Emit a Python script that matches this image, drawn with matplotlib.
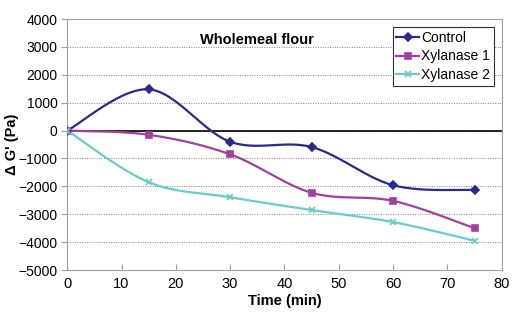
import matplotlib.pyplot as plt
import numpy as np

plt.rcParams['font.family'] = ['Liberation Sans', 'DejaVu Sans']

time_min = [0, 15, 30, 45, 60, 75]
control = [0, 1480, -400, -590, -1960, -2130]
xylanase_1 = [0, -150, -850, -2230, -2520, -3500]
xylanase_2 = [0, -1850, -2390, -2850, -3280, -3950]


# Excel-style smoothed line through the points (Catmull-Rom)
def smooth(x, y, n=30):
    x = np.asarray(x, float)
    y = np.asarray(y, float)
    px = np.concatenate([[x[0]], x, [x[-1]]])
    py = np.concatenate([[y[0]], y, [y[-1]]])
    xs, ys = [], []
    t = np.linspace(0, 1, n)
    for i in range(1, len(px) - 2):
        for p, out in ((px, xs), (py, ys)):
            p0, p1, p2, p3 = p[i - 1], p[i], p[i + 1], p[i + 2]
            out.extend(0.5 * (2 * p1 + (-p0 + p2) * t
                              + (2 * p0 - 5 * p1 + 4 * p2 - p3) * t ** 2
                              + (-p0 + 3 * p1 - 3 * p2 + p3) * t ** 3))
    return xs, ys


fig, ax = plt.subplots(figsize=(5.21, 3.23), dpi=100)
fig.subplots_adjust(left=0.129, right=0.963, top=0.941, bottom=0.164)

series = [
    ('Control', control, '#2a2a8c', 'D', 4),
    ('Xylanase 1', xylanase_1, '#a3409f', 's', 5),
    ('Xylanase 2', xylanase_2, '#66cccc', 'x', 5),
]
for name, vals, color, marker, ms in series:
    sx, sy = smooth(time_min, vals)
    ax.plot(sx, sy, color=color, lw=1.6, zorder=3)
    ax.plot(time_min, vals, ls='none', marker=marker, ms=ms, color=color,
            mew=1.2, zorder=4)
    ax.plot([], [], color=color, lw=1.6, marker=marker, ms=ms, mew=1.2,
            label=name)

ax.axhline(0, color='black', lw=1.2, zorder=2)
ax.set_xlim(0, 80)
ax.set_ylim(-5000, 4000)
ax.set_xticks(range(0, 81, 10))
ax.set_yticks(range(-5000, 4001, 1000))
ax.yaxis.grid(True, ls=(0, (1, 1.5)), color='#808080', lw=0.7)
ax.set_axisbelow(True)
for s in ax.spines.values():
    s.set_color('#a0a0a0')
ax.tick_params(colors='#a0a0a0', labelcolor='black', labelsize=10.5, length=4)
ax.tick_params(axis='x', direction='in', pad=5)
ax.tick_params(axis='y', labelsize=10, pad=3)

ax.set_xlabel('Time (min)', fontsize=10.5, fontweight='bold', labelpad=2)
ax.set_ylabel('\u0394 G\' (Pa)', fontsize=10.5, fontweight='bold')
ax.yaxis.set_label_coords(-0.112, 0.5)
ax.text(35, 3250, 'Wholemeal flour', ha='center', va='center',
        fontsize=10.5, fontweight='bold')

leg = ax.legend(loc='upper right', bbox_to_anchor=(0.982, 0.968),
                fontsize=10, handlelength=1.6, handletextpad=0.2,
                borderpad=0.25, labelspacing=0.35, borderaxespad=0,
                fancybox=False, framealpha=1)
leg.get_frame().set_edgecolor('#303030')
leg.get_frame().set_linewidth(0.8)

fig.savefig('out.png', dpi=100)
